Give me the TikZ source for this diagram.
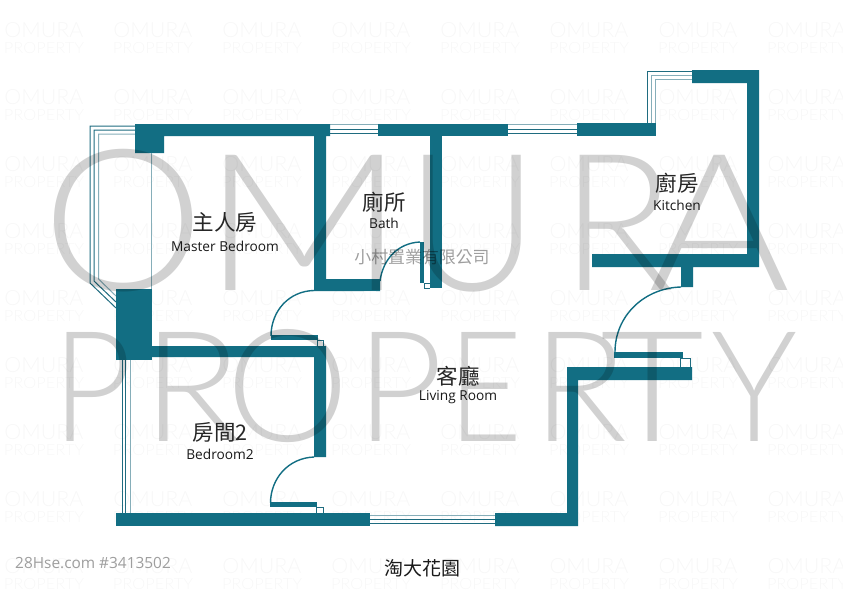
\documentclass[tikz,border=0pt]{standalone}
\usepackage{fontspec}
\setmainfont{Open Sans}
\newfontfamily\cjk{Noto Sans CJK TC}
\newfontfamily\wmfont{Lato Light}
\usetikzlibrary{calc}
\definecolor{wallc}{HTML}{126E83}
\definecolor{lined}{HTML}{1F6C80}
\definecolor{linel}{HTML}{86AEB9}
% one big letter: #1 letter, #2 ink left, #3 ink right, #4 side bearing, #5 height (all relative to the word's origin)
\newcommand{\wmL}[5]{\pgfmathsetlengthmacro{\wmx}{#2-#4}\pgfmathsetlengthmacro{\wmw}{#3-#2+2*#4}\rlap{\kern\wmx\relax\resizebox{\wmw}{#5pt}{#1}}}
\tikzset{
  wall/.style={fill=wallc,draw=none},
  wd/.style={draw=lined,line width=1pt},
  wl/.style={draw=linel,line width=1pt},
  doorarc/.style={draw=wallc,line width=1.4pt},
  jamb/.style={draw=lined,line width=.7pt},
  cn/.style={inner sep=0pt,font=\cjk\fontsize{21.5}{22}\selectfont,text=black!85},
  en/.style={inner sep=0pt,font=\fontsize{13.7}{15}\selectfont,text=black!90},
  bigwm/.style={inner sep=0pt,text=black,text opacity=.18,anchor=base west,font=\wmfont},
  smallwm/.style={inner sep=0pt,text=black,text opacity=.03,font=\wmfont},
}
\begin{document}
\begin{tikzpicture}[x=1pt,y=-1pt]
\useasboundingbox (0,0) rectangle (843,597);
\fill[white] (0,0) rectangle (843,597);
% small repeating watermark
\foreach \cx [count=\i] in {44,153,262,371,480,589,698,807}{
  \foreach \cy [count=\j] in {30,97,164,231,298,365,432,499,566}{
    \node[smallwm] (wmo\i\j) at (\cx,\cy) {\resizebox{79pt}{15pt}{OMURA}};
    \node[smallwm] (wmp\i\j) at (\cx,\cy+18) {\resizebox{80pt}{11pt}{PROPERTY}};
  }
}
% window lines
\draw[wd] (135,126) -- (90,126) -- (90,283) -- (116,308);
\draw[wd] (135,130) -- (94,130) -- (94,281) -- (116,302);
\draw[wl] (135,134) -- (98.5,134) -- (98.5,279) -- (116,296);
\draw[wl] (151,153) -- (151,289);
\draw[wd] (122,360) -- (122,513);
\draw[wd] (125.5,360) -- (125.5,513);
\draw[wl] (130,360) -- (130,513);
\foreach \a/\b in {330/378,508/577}{
  \draw[wl] (\a,124.8) -- (\b,124.8);
  \draw[wd] (\a,129) -- (\b,129);
  \draw[wd] (\a,133) -- (\b,133);
}
\draw[wl] (370,515.5) -- (495,515.5);
\draw[wd] (370,519.5) -- (495,519.5);
\draw[wd] (370,523.5) -- (495,523.5);
\draw[wd] (647,124) -- (647,71) -- (692,71);
\draw[wl] (651,124) -- (651,75) -- (692,75);
\draw[wl] (655.5,124) -- (655.5,79) -- (692,79);
% walls
\fill[wall] (135,124) -- (330,124) -- (330,136) -- (326,136) -- (326,279) -- (380,279) -- (380,291) -- (314,291) -- (314,136) -- (164,136) -- (164,153) -- (135,153) -- cycle;
\fill[wall] (378,124) rectangle (508,136);
\fill[wall] (430,136) rectangle (442,288);
\fill[wall] (577,123) rectangle (656,136);
\fill[wall] (692,70) -- (759,70) -- (759,267) -- (693,267) -- (693,287) -- (681,287) -- (681,267) -- (592,267) -- (592,254) -- (747,254) -- (747,83) -- (692,83) -- cycle;
\fill[wall] (116,289) rectangle (152,360);
\fill[wall] (152,346) -- (326,346) -- (326,457) -- (314,457) -- (314,357) -- (152,357) -- cycle;
\fill[wall] (116,513) rectangle (370,526);
\fill[wall] (495,513) -- (567,513) -- (567,367) -- (692,367) -- (692,380) -- (578,380) -- (578,526) -- (495,526) -- cycle;
% door leaves
\fill[wall] (420,242) rectangle (424,283);
\fill[wall] (271,335) rectangle (318,340);
\fill[wall] (270,502) rectangle (317,507);
\fill[wall] (614,352) rectangle (683,358);
% door swings
\draw[doorarc] (380,281) .. controls (383,259) and (398,243) .. (420,242);
\draw[doorarc] (314,290.5) .. controls (289,291) and (271,311) .. (271,336);
\draw[doorarc] (314,457) .. controls (288,458) and (270.5,479) .. (270.5,503);
\draw[doorarc] (681,287) .. controls (644,288) and (615,316) .. (615,352);
% jamb squares
\draw[jamb] (424,283) -- (424,288) -- (430,288);
\draw[jamb] (424,283) -- (430,283);
\draw[jamb] (317,340) -- (317,346);
\draw[jamb] (323,346) -- (323,340) -- (317,340);
\draw[jamb] (316,507) -- (316,513);
\draw[jamb] (323,513) -- (323,507) -- (316,507);
\draw[jamb] (680.5,358) -- (680.5,367);
\draw[jamb] (690,367) -- (690,358) -- (681,358);
% small notch on the bath wall
\fill[white,opacity=.65] (364,291) arc[start angle=180,end angle=0,radius=6];
% large watermark
\node[bigwm] (wmbig1) at (0,290) {\wmL{O}{52}{194}{10}{141}\wmL{M}{222}{385}{20}{135}\wmL{U}{418}{526}{12}{135}\wmL{R}{572}{662}{12}{135}\wmL{A}{650}{788}{2}{135}};
\node[bigwm] (wmbig2) at (0,441) {\wmL{P}{62}{122}{10}{109}\wmL{R}{152}{231}{10}{109}\wmL{O}{234}{341}{8}{112}\wmL{P}{366}{433}{10}{109}\wmL{E}{458}{512}{10}{109}\wmL{R}{542}{617}{10}{109}\wmL{T}{602}{702}{2}{109}\wmL{Y}{712}{796}{1}{109}};
% labels
\node[cn] (mbz) at (225,222) {主人房};
\node[en] (mbe) at (225,246) {Master Bedroom};
\node[cn] (bthz) at (384,202) {廁所};
\node[en] (bthe) at (384,223) {Bath};
\node[cn] (kitz) at (677,183) {廚房};
\node[en] (kite) at (677,205) {Kitchen};
\node[cn] (livz) at (458,376) {客廳};
\node[en] (live) at (458,397) {Living Room};
\node[cn] (bd2z) at (220,432) {房間2};
\node[en] (bd2e) at (220,454) {Bedroom2};
\node[inner sep=0pt,font=\cjk\fontsize{19}{20}\selectfont,text=black!90] (gard) at (422,568) {淘大花園};
\node[inner sep=0pt,font=\cjk\fontsize{16.9}{17}\selectfont,text=black,text opacity=.38] (comp) at (422,257) {小村置業有限公司};
\node[inner sep=0pt,anchor=west,font=\fontsize{15.4}{16}\selectfont,text=black!38] (stamp) at (15,563.5) {28Hse.com \#3413502};
\end{tikzpicture}
\end{document}
